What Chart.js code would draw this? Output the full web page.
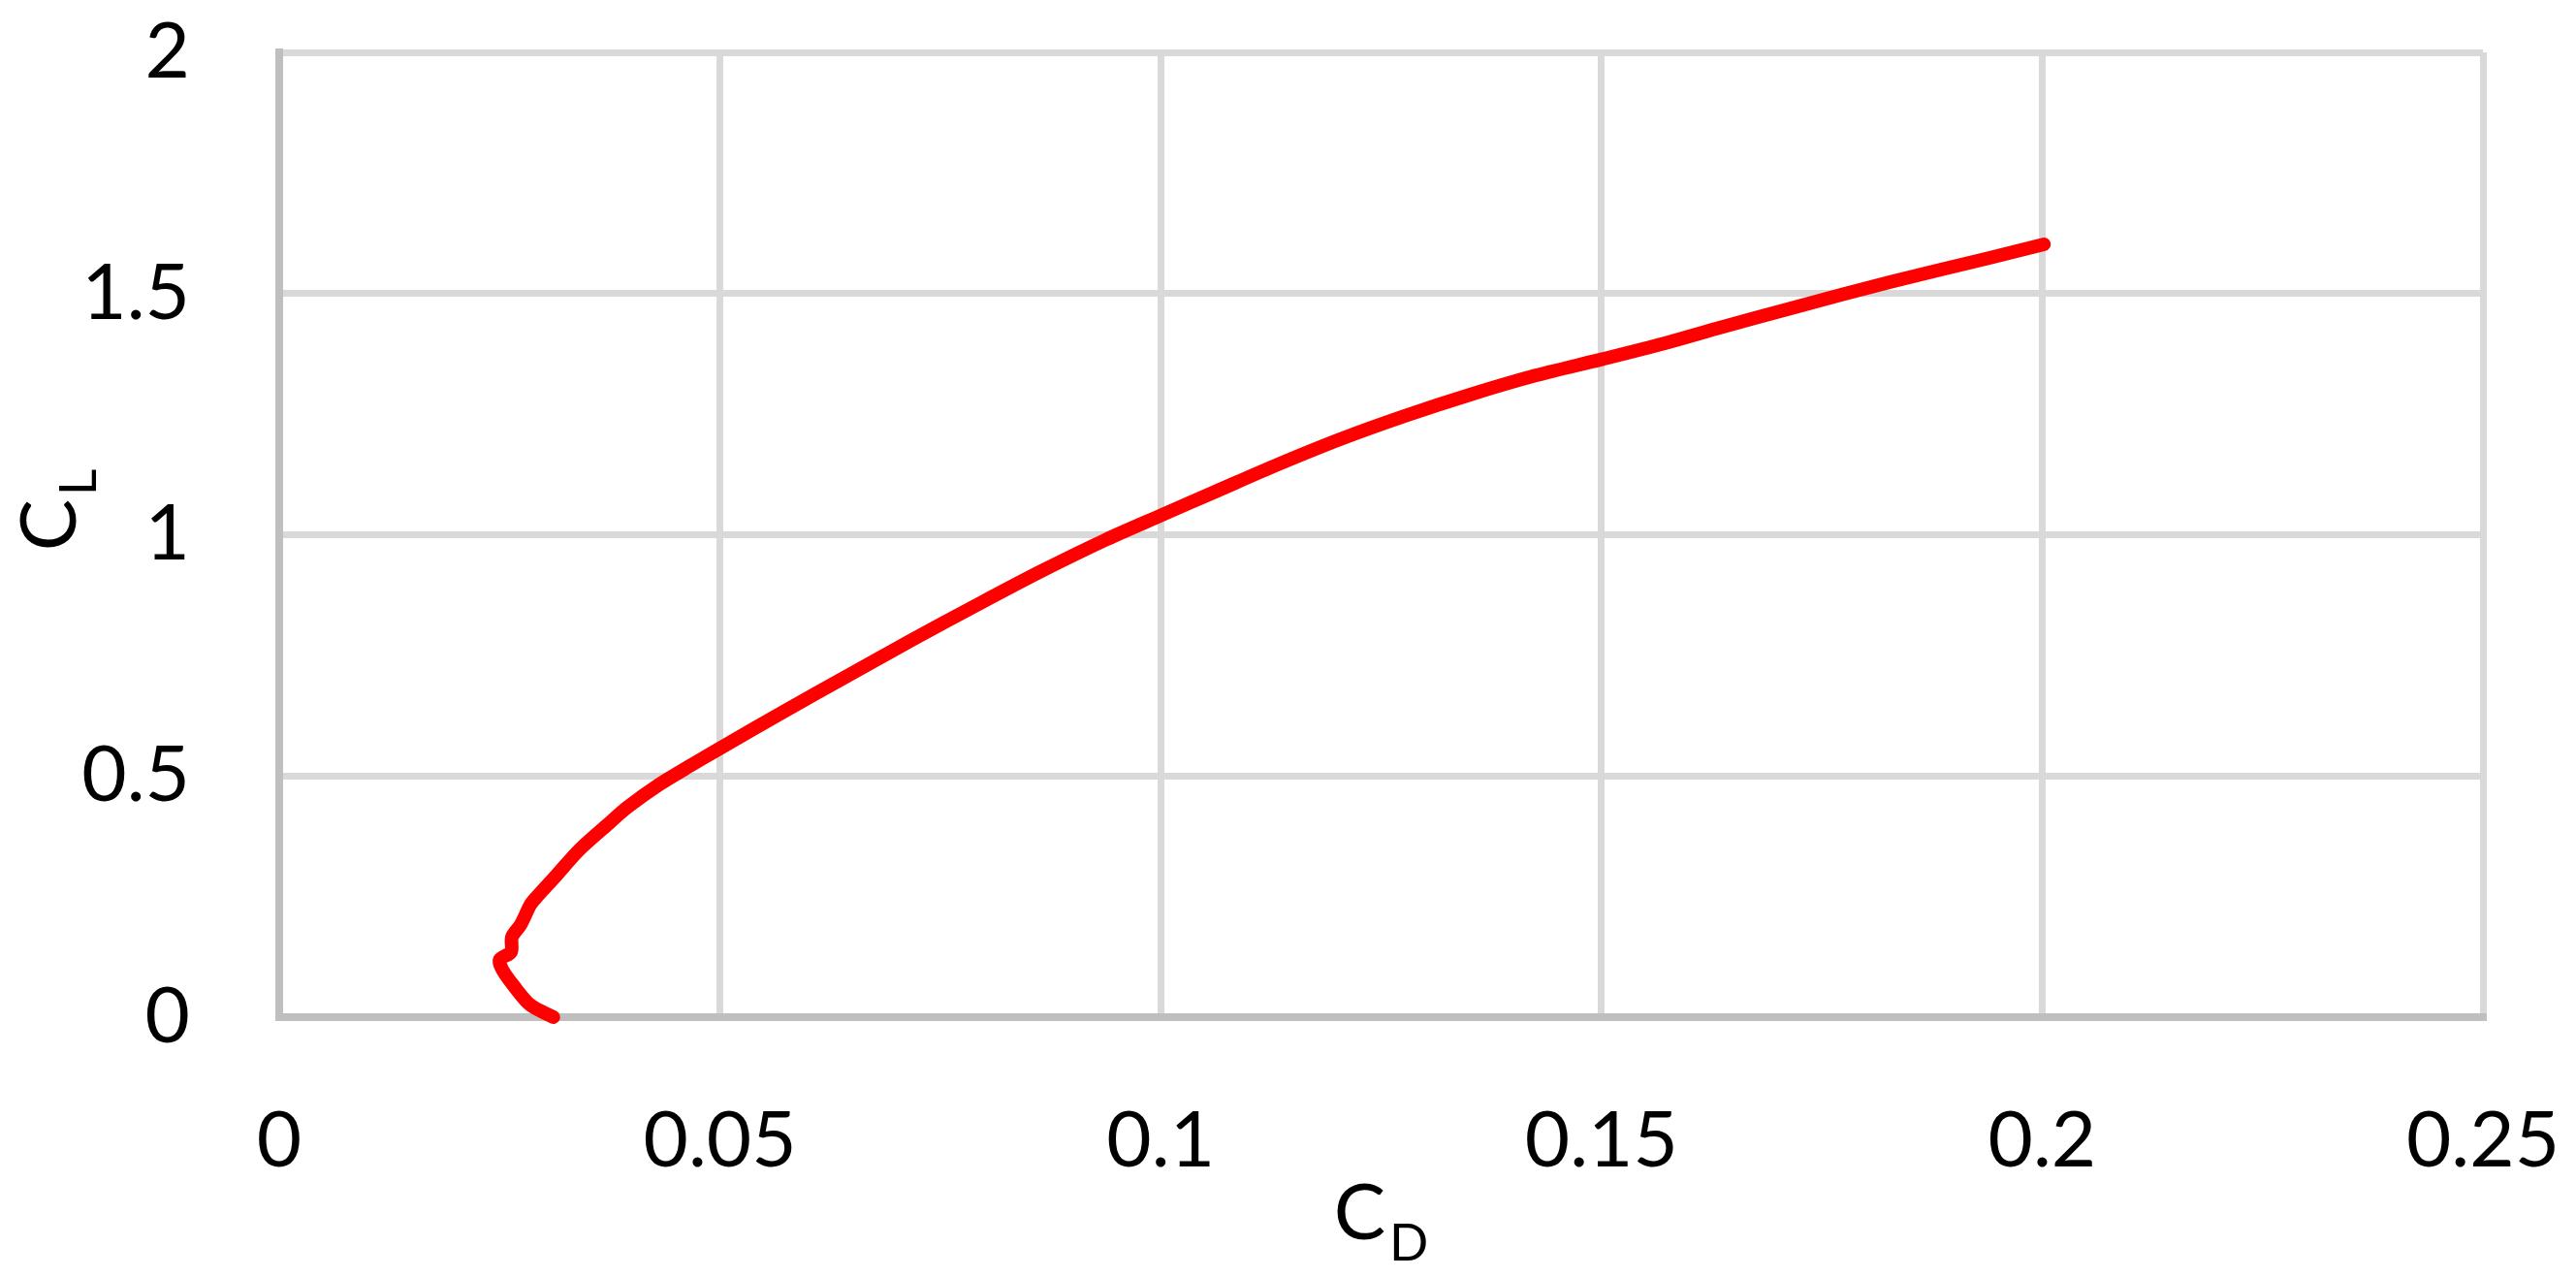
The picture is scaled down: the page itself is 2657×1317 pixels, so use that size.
<!DOCTYPE html>
<html>
<head>
<meta charset="utf-8">
<script src="https://cdn.jsdelivr.net/npm/chart.js@4/dist/chart.umd.min.js"></script>
<style>
  html, body { margin: 0; padding: 0; background: #ffffff; }
  #wrap { width: 2657px; height: 1317px; }
</style>
</head>
<body>
<div id="wrap"><canvas id="c" width="2657" height="1317"></canvas></div>
<script>
// Drag coefficient (x) and lift coefficient (y)
const cdValues = [0.0311, 0.0285, 0.0266, 0.0253, 0.0250, 0.0263, 0.0264, 0.0274, 0.0285, 0.0292,
                  0.0314, 0.0340, 0.0373, 0.0395, 0.0431, 0.0468, 0.0497, 0.0571, 0.0644, 0.0717,
                  0.0791, 0.0864, 0.0938, 0.1000, 0.1064, 0.1132, 0.1205, 0.1278, 0.1352, 0.1425,
                  0.1501, 0.1572, 0.1630, 0.1718, 0.1828, 0.1938, 0.2002];
const clValues = [0.000, 0.025, 0.065, 0.099, 0.119, 0.135, 0.166, 0.192, 0.233, 0.249,
                  0.293, 0.346, 0.400, 0.435, 0.482, 0.523, 0.554, 0.632, 0.707, 0.781,
                  0.854, 0.924, 0.990, 1.040, 1.091, 1.145, 1.199, 1.247, 1.291, 1.330,
                  1.364, 1.397, 1.427, 1.471, 1.524, 1.573, 1.602];
const xTickLabels = ['0', '0.05', '0.1', '0.15', '0.2', '0.25'];
const yTickLabels = ['0', '0.5', '1', '1.5', '2'];
const xTitleMain = 'C', xTitleSub = 'D';
const yTitleMain = 'C', yTitleSub = 'L';

const FONT = "Lato, 'Open Sans', 'Liberation Sans', sans-serif";
const points = cdValues.map((x, i) => ({ x: x, y: clValues[i] }));

function zeroPad(scale) {
  scale.paddingTop = 0; scale.paddingBottom = 0;
  scale.paddingLeft = 0; scale.paddingRight = 0;
}

const titlePlugin = {
  id: 'subTitles',
  afterDraw(chart) {
    const ctx = chart.ctx;
    const area = chart.chartArea;
    ctx.save();
    ctx.fillStyle = '#000000';
    ctx.textBaseline = 'alphabetic';
    ctx.textAlign = 'left';
    const mainFont = '80px ' + FONT;
    const subFont = '53px ' + FONT;
    // X title
    ctx.font = mainFont;
    const wC = ctx.measureText(xTitleMain).width;
    ctx.font = subFont;
    const wD = ctx.measureText(xTitleSub).width;
    const totalX = wC + 4 + wD;
    const cx = (area.left + area.right) / 2;
    const by = area.bottom + 229;
    ctx.font = mainFont;
    ctx.fillText(xTitleMain, cx - totalX / 2, by);
    ctx.font = subFont;
    ctx.fillText(xTitleSub, cx - totalX / 2 + wC + 4, by + 22);
    // Y title (rotated)
    ctx.font = mainFont;
    const wC2 = ctx.measureText(yTitleMain).width;
    ctx.font = subFont;
    const wL = ctx.measureText(yTitleSub).width;
    const totalY = wC2 + 4 + wL;
    ctx.translate(area.left - 210, 526);
    ctx.rotate(-Math.PI / 2);
    ctx.font = mainFont;
    ctx.fillText(yTitleMain, -totalY / 2, 0);
    ctx.font = subFont;
    ctx.fillText(yTitleSub, -totalY / 2 + wC2 + 4, 21);
    ctx.restore();
  }
};

new Chart(document.getElementById('c'), {
  type: 'scatter',
  data: {
    datasets: [{
      data: points,
      showLine: true,
      borderColor: '#ff0000',
      backgroundColor: '#ff0000',
      borderWidth: 14,
      borderCapStyle: 'round',
      borderJoinStyle: 'round',
      pointRadius: 0,
      pointHoverRadius: 0,
      tension: 0.3,
      clip: false
    }]
  },
  options: {
    responsive: false,
    animation: false,
    events: [],
    layout: { padding: { top: 54, right: 96, left: 0, bottom: 0 } },
    plugins: { legend: { display: false }, tooltip: { enabled: false }, title: { display: false } },
    scales: {
      x: {
        type: 'linear',
        min: 0, max: 0.25,
        afterFit(scale) { scale.height = 268; zeroPad(scale); },
        afterBuildTicks(scale) { scale.ticks = xTickLabels.map(t => ({ value: parseFloat(t) })); },
        ticks: {
          callback: (v, i) => xTickLabels[i],
          color: '#000000',
          font: { family: FONT, size: 80 },
          padding: 80,
          maxRotation: 0, minRotation: 0
        },
        grid: { color: '#d9d9d9', lineWidth: 7, drawTicks: false },
        border: { display: true, color: '#bfbfbf', width: 8 }
      },
      y: {
        type: 'linear',
        min: 0, max: 2,
        afterFit(scale) { scale.width = 288; zeroPad(scale); },
        afterBuildTicks(scale) { scale.ticks = yTickLabels.map(t => ({ value: parseFloat(t) })); },
        ticks: {
          callback: (v, i) => yTickLabels[i],
          color: '#000000',
          font: { family: FONT, size: 80 },
          padding: 92
        },
        grid: { color: '#d9d9d9', lineWidth: 7, drawTicks: false },
        border: { display: true, color: '#bfbfbf', width: 8 }
      }
    }
  },
  plugins: [titlePlugin]
});
</script>
</body>
</html>
